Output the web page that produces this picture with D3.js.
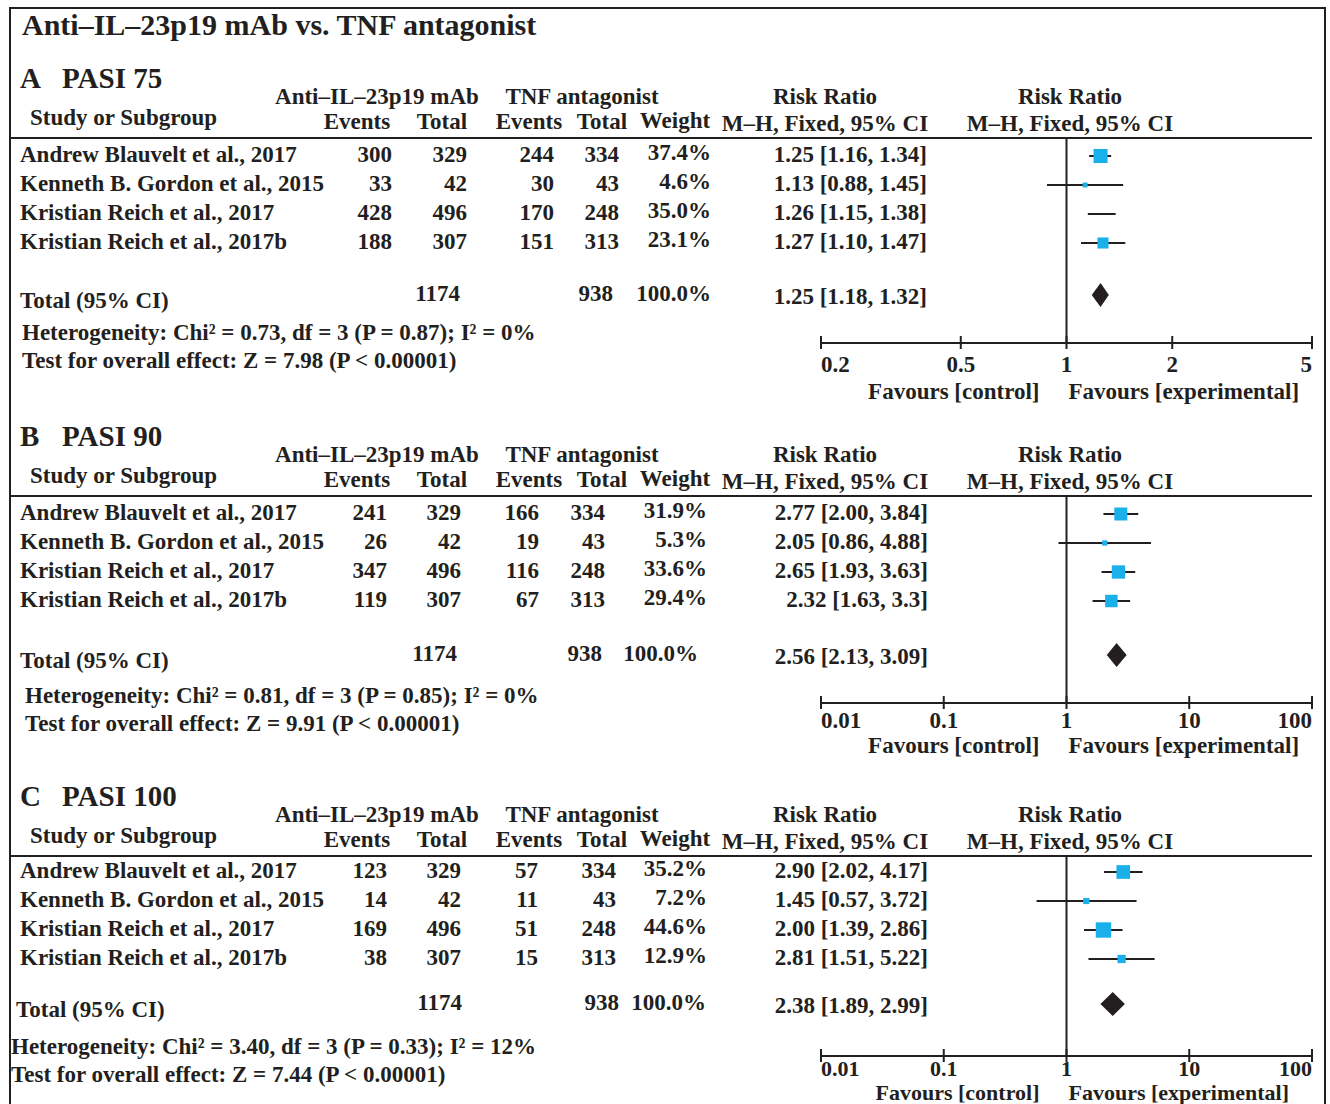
<!DOCTYPE html>
<html>
<head>
<meta charset="utf-8">
<script src="https://cdn.jsdelivr.net/npm/d3@7"></script>
<style>
  body { margin: 0; background: #fff; }
  svg text { font-family: "Liberation Serif", "Times New Roman", serif; font-weight: bold; fill: #231f20; }
</style>
</head>
<body>
<div id="chart_container"></div>
<script>
// Data

const chartTitle = "Anti–IL–23p19 mAb vs. TNF antagonist"
const panelLetters = ["A", "B", "C"]
const panelTitles = ["PASI 75", "PASI 90", "PASI 100"]
const studies = ["Andrew Blauvelt et al., 2017", "Kenneth B. Gordon et al., 2015", "Kristian Reich et al., 2017", "Kristian Reich et al., 2017b"]

const expEvents = [[300, 33, 428, 188], [241, 26, 347, 119], [123, 14, 169, 38]]
const expTotal = [329, 42, 496, 307]
const ctlEvents = [[244, 30, 170, 151], [166, 19, 116, 67], [57, 11, 51, 15]]
const ctlTotal = [334, 43, 248, 313]
const weights = [[37.4, 4.6, 35.0, 23.1], [31.9, 5.3, 33.6, 29.4], [35.2, 7.2, 44.6, 12.9]]

const rr = [[1.25, 1.13, 1.26, 1.27], [2.77, 2.05, 2.65, 2.32], [2.90, 1.45, 2.00, 2.81]]
const rrLow = [[1.16, 0.88, 1.15, 1.10], [2.00, 0.86, 1.93, 1.63], [2.02, 0.57, 1.39, 1.51]]
const rrHigh = [[1.34, 1.45, 1.38, 1.47], [3.84, 4.88, 3.63, 3.3], [4.17, 3.72, 2.86, 5.22]]
const ciLabels = [
  ["1.25 [1.16, 1.34]", "1.13 [0.88, 1.45]", "1.26 [1.15, 1.38]", "1.27 [1.10, 1.47]"],
  ["2.77 [2.00, 3.84]", "2.05 [0.86, 4.88]", "2.65 [1.93, 3.63]", "2.32 [1.63, 3.3]"],
  ["2.90 [2.02, 4.17]", "1.45 [0.57, 3.72]", "2.00 [1.39, 2.86]", "2.81 [1.51, 5.22]"]
]
// square is missing on row 3 of panel A in the original
const squareShown = [[true, true, false, true], [true, true, true, true], [true, true, true, true]]

const totalExp = [1174, 1174, 1174]
const totalCtl = [938, 938, 938]
const totalWeight = ["100.0%", "100.0%", "100.0%"]
const totalRR = [1.25, 2.56, 2.38]
const totalLow = [1.18, 2.13, 1.89]
const totalHigh = [1.32, 3.09, 2.99]
const totalLabels = ["1.25 [1.18, 1.32]", "2.56 [2.13, 3.09]", "2.38 [1.89, 2.99]"]

const hetText = [
  "Heterogeneity: Chi² = 0.73, df = 3 (P = 0.87); I² = 0%",
  "Heterogeneity: Chi² = 0.81, df = 3 (P = 0.85); I² = 0%",
  "Heterogeneity: Chi² = 3.40, df = 3 (P = 0.33); I² = 12%"
]
const testText = [
  "Test for overall effect: Z = 7.98 (P < 0.00001)",
  "Test for overall effect: Z = 9.91 (P < 0.00001)",
  "Test for overall effect: Z = 7.44 (P < 0.00001)"
]
const axisTicks = [[0.2, 0.5, 1, 2, 5], [0.01, 0.1, 1, 10, 100], [0.01, 0.1, 1, 10, 100]]

// Layout

const W = 1330
const H = 1104
const fontSize = "23px"
const titleSize = "30px"
const panelSize = "29px"
const ink = "#231f20"
const blue = "#1ab0ea"

// y of the panel letter centre, and offsets of the lower part from it
const panelTop = [78, 436, 796]
const rowDy = [76, 76, 74]
const totalDy = [217, 219, 208]
const hetDy = [254, 259, 250]
const axisDy = [265, 267, 260]
const tickLabDy = [29, 25, 20]
const favDy = [56, 50, 44]
const bottomSize = ["23px", "23px", "22px"]
// per panel small shifts of the left text block
const leftX = [20, 20, 20]
const footX = [22, 25, 11]
const totalX = [20, 20, 16]
// column right edges per panel
const cols = [
  { ev1: 392, tot1: 467, ev2: 554, tot2: 619, wt: 711, ci: 927, sumTot1: 460, sumTot2: 613, sumWt: 711 },
  { ev1: 387, tot1: 461, ev2: 539, tot2: 605, wt: 707, ci: 928, sumTot1: 457, sumTot2: 602, sumWt: 698 },
  { ev1: 387, tot1: 461, ev2: 538, tot2: 616, wt: 707, ci: 928, sumTot1: 462, sumTot2: 619, sumWt: 706 }
]
const plotLeft = 821
const plotRight = 1312

const svg = d3.select("#chart_container").append("svg")
  .attr("width", W)
  .attr("height", H)

// outer frame
svg.append("path")
  .attr("d", `M10,${H} V8 H1325 V${H}`)
  .attr("fill", "none")
  .attr("stroke", ink)
  .attr("stroke-width", 2)

function txt(g, x, y, s, anchor, size) {
  return g.append("text")
    .attr("x", x)
    .attr("y", y)
    .attr("text-anchor", anchor || "start")
    .style("font-size", size || fontSize)
    .text(s)
}

txt(svg, 22, 35, chartTitle, "start", titleSize)

panelTitles.forEach((title, p) => {
  const t = panelTop[p]
  const g = svg.append("g")
  const c = cols[p]

  txt(g, 20, t + 10, panelLetters[p], "start", panelSize)
  txt(g, 62, t + 10, title, "start", panelSize)

  // header
  txt(g, 377, t + 26, "Anti–IL–23p19 mAb", "middle")
  txt(g, 582, t + 26, "TNF antagonist", "middle")
  txt(g, 825, t + 26, "Risk Ratio", "middle")
  txt(g, 1070, t + 26, "Risk Ratio", "middle")
  txt(g, 30, t + 47, "Study or Subgroup")
  txt(g, 357, t + 51, "Events", "middle")
  txt(g, 442, t + 51, "Total", "middle")
  txt(g, 529, t + 51, "Events", "middle")
  txt(g, 602, t + 51, "Total", "middle")
  txt(g, 675, t + 50, "Weight", "middle")
  txt(g, 825, t + 53, "M–H, Fixed, 95% CI", "middle")
  txt(g, 1070, t + 53, "M–H, Fixed, 95% CI", "middle")

  const ruleY = t + 60
  g.append("line")
    .attr("x1", 10).attr("x2", plotRight)
    .attr("y1", ruleY).attr("y2", ruleY)
    .attr("stroke", ink).attr("stroke-width", 2)

  const rowY = d3.range(studies.length).map(i => t + rowDy[p] + i * 29)
  const totalY = t + totalDy[p]
  const axisY = t + axisDy[p]

  const x = d3.scaleLog()
    .domain([axisTicks[p][0], axisTicks[p][axisTicks[p].length - 1]])
    .range([plotLeft, plotRight])
  const size = d3.scaleSqrt().domain([0, 100]).range([0, 23])

  // table rows
  studies.forEach((s, i) => {
    const y = rowY[i] + 8
    txt(g, leftX[p], y, s)
    txt(g, c.ev1, y, expEvents[p][i], "end")
    txt(g, c.tot1, y, expTotal[i], "end")
    txt(g, c.ev2, y, ctlEvents[p][i], "end")
    txt(g, c.tot2, y, ctlTotal[i], "end")
    txt(g, c.wt, y - 2, weights[p][i].toFixed(1) + "%", "end")
    txt(g, c.ci, y, ciLabels[p][i], "end")
  })

  // totals row
  txt(g, totalX[p], totalY + 13, "Total (95% CI)")
  txt(g, c.sumTot1, totalY + 6, totalExp[p], "end")
  txt(g, c.sumTot2, totalY + 6, totalCtl[p], "end")
  txt(g, c.sumWt, totalY + 6, totalWeight[p], "end")
  txt(g, c.ci, totalY + 9, totalLabels[p], "end")

  txt(g, footX[p], t + hetDy[p] + 8, hetText[p])
  txt(g, footX[p], t + hetDy[p] + 36, testText[p])

  // line of no effect
  g.append("line")
    .attr("x1", x(1)).attr("x2", x(1))
    .attr("y1", ruleY).attr("y2", axisY)
    .attr("stroke", ink).attr("stroke-width", 2)

  // CI lines and squares
  studies.forEach((s, i) => {
    const y = rowY[i] + 2
    g.append("line")
      .attr("x1", x(rrLow[p][i])).attr("x2", x(rrHigh[p][i]))
      .attr("y1", y).attr("y2", y)
      .attr("stroke", ink).attr("stroke-width", 2)
    if (squareShown[p][i]) {
      const sz = size(weights[p][i])
      g.append("rect")
        .attr("x", x(rr[p][i]) - sz / 2)
        .attr("y", y - sz / 2)
        .attr("width", sz)
        .attr("height", sz)
        .attr("fill", blue)
    }
  })

  // diamond
  const dy = 12
  g.append("path")
    .attr("d", `M${x(totalLow[p])},${totalY} L${x(totalRR[p])},${totalY - dy} L${x(totalHigh[p])},${totalY} L${x(totalRR[p])},${totalY + dy} Z`)
    .attr("fill", ink)

  // axis
  g.append("line")
    .attr("x1", plotLeft).attr("x2", plotRight)
    .attr("y1", axisY).attr("y2", axisY)
    .attr("stroke", ink).attr("stroke-width", 2)
  const ticks = axisTicks[p]
  ticks.forEach((v, k) => {
    g.append("line")
      .attr("x1", x(v)).attr("x2", x(v))
      .attr("y1", axisY - 7).attr("y2", axisY + 6)
      .attr("stroke", ink).attr("stroke-width", 2)
    const anchor = k === 0 ? "start" : (k === ticks.length - 1 ? "end" : "middle")
    txt(g, x(v), axisY + tickLabDy[p], v, anchor, bottomSize[p])
  })
  txt(g, x(1) - 27, axisY + favDy[p], "Favours [control]", "end", bottomSize[p])
  txt(g, x(1) + 2, axisY + favDy[p], "Favours [experimental]", "start", bottomSize[p])
})
</script>
</body>
</html>
